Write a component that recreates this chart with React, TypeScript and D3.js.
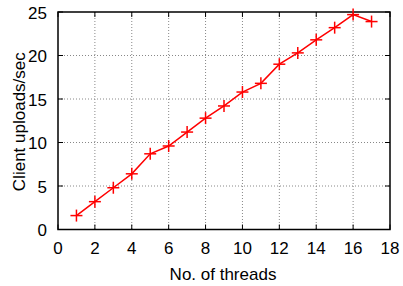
import React from "react";
import * as d3 from "d3";

const threads = [1, 2, 3, 4, 5, 6, 7, 8, 9, 10, 11, 12, 13, 14, 15, 16, 17];
const uploads = [1.6, 3.2, 4.8, 6.4, 8.7, 9.6, 11.2, 12.8, 14.2, 15.8, 16.8, 19.0, 20.3, 21.8, 23.2, 24.7, 23.9];
const xTicks = [0, 2, 4, 6, 8, 10, 12, 14, 16, 18];
const yTicks = [0, 5, 10, 15, 20, 25];

export default function App() {
  const W = 403, H = 286;
  const L = 58, R = 390, T = 12, B = 229.5;
  const x = d3.scaleLinear().domain([0, 18]).range([L, R]);
  const y = d3.scaleLinear().domain([0, 25]).range([B, T]);
  const line = d3.line<number>().x((_, i) => x(threads[i])).y((d) => y(d));
  const font = "Liberation Sans, Arial, sans-serif";
  return (
    <svg width={W} height={H} style={{ position: "absolute", left: 0, top: 0 }} fontFamily={font}>
      <rect width={W} height={H} fill="white" />
      {xTicks.slice(1, -1).map((t) => (
        <line key={"gx" + t} x1={x(t)} x2={x(t)} y1={T} y2={B} stroke="#888" strokeWidth={1} strokeDasharray="1,2" />
      ))}
      {yTicks.slice(1, -1).map((t) => (
        <line key={"gy" + t} x1={L} x2={R} y1={y(t)} y2={y(t)} stroke="#888" strokeWidth={1} strokeDasharray="1,2" />
      ))}
      {xTicks.map((t) => (
        <g key={"tx" + t}>
          <line x1={x(t)} x2={x(t)} y1={B} y2={B - 5} stroke="black" />
          <line x1={x(t)} x2={x(t)} y1={T} y2={T + 5} stroke="black" />
          <text x={x(t)} y={B + 24} textAnchor="middle" fontSize={17}>{t}</text>
        </g>
      ))}
      {yTicks.map((t) => (
        <g key={"ty" + t}>
          <line x1={L} x2={L + 5} y1={y(t)} y2={y(t)} stroke="black" />
          <line x1={R} x2={R - 5} y1={y(t)} y2={y(t)} stroke="black" />
          <text x={L - 11} y={y(t) + 6.5} textAnchor="end" fontSize={17}>{t}</text>
        </g>
      ))}
      <rect x={L} y={T} width={R - L} height={B - T} fill="none" stroke="black" strokeWidth={1.5} />
      <path d={line(uploads) || ""} fill="none" stroke="#ff0000" strokeWidth={1.5} />
      {uploads.map((v, i) => (
        <g key={"p" + i} stroke="#ff0000" strokeWidth={1.5}>
          <line x1={x(threads[i]) - 6} x2={x(threads[i]) + 6} y1={y(v)} y2={y(v)} />
          <line x1={x(threads[i])} x2={x(threads[i])} y1={y(v) - 6} y2={y(v) + 6} />
        </g>
      ))}
      <text x={223} y={280} textAnchor="middle" fontSize={17}>No. of threads</text>
      <text transform={`translate(25,121.7) rotate(-90)`} textAnchor="middle" fontSize={17}>Client uploads/sec</text>
    </svg>
  );
}
